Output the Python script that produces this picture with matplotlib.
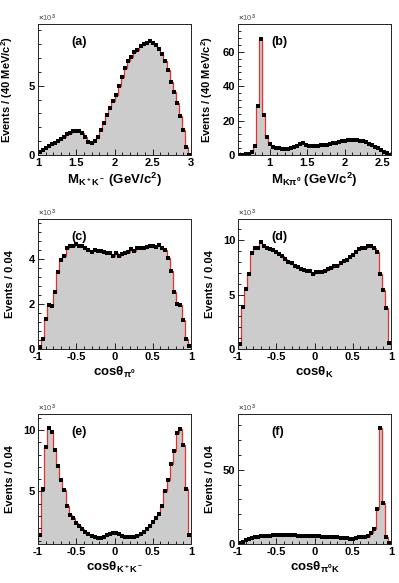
import numpy as np
import matplotlib
matplotlib.use("Agg")
import matplotlib.pyplot as plt
from matplotlib.ticker import MultipleLocator

plt.rcParams['font.family'] = ['Liberation Sans', 'DejaVu Sans']
plt.rcParams['font.weight'] = 'bold'
plt.rcParams['mathtext.fontset'] = 'custom'
plt.rcParams['mathtext.rm'] = 'Liberation Sans:bold'
plt.rcParams['mathtext.it'] = 'Liberation Sans:bold'
plt.rcParams['mathtext.bf'] = 'Liberation Sans:bold'

# ---------------- data (units of 10^3 events per bin) ----------------
# (a) M(K+K-), 1.0 - 3.0 GeV, 40 MeV bins
a_range = (1.0, 3.0)
a_vals = [0.20, 0.36, 0.53, 0.68, 0.80, 0.90, 1.03, 1.18, 1.33, 1.48,
          1.62, 1.70, 1.72, 1.72, 1.56, 1.27, 0.96, 0.84, 0.98, 1.30,
          1.82, 2.30, 2.85, 3.37, 3.90, 4.35, 5.00, 5.60, 6.30, 6.75,
          7.10, 7.40, 7.60, 7.85, 8.00, 8.10, 8.25, 8.10, 7.90, 7.65,
          7.30, 6.75, 6.10, 5.30, 4.55, 3.75, 2.80, 1.80, 0.60, 0.00]

# (b) M(K pi0), 0.58 - 2.62 GeV, 40 MeV bins
b_range = (0.58, 2.62)
b_vals = [0.0, 0.2, 0.3, 0.6, 1.5, 5.2, 28.7, 67.4, 23.1, 10.5,
          6.4, 4.9, 4.3, 3.9, 3.7, 3.6, 3.7, 4.0, 4.5, 5.3,
          6.6, 6.9, 5.9, 5.4, 5.3, 5.4, 5.5, 5.7, 5.9, 6.1,
          6.4, 6.8, 7.2, 7.6, 8.0, 8.4, 8.7, 8.9, 8.9, 8.7,
          8.4, 7.9, 7.3, 6.6, 5.8, 4.9, 3.9, 2.9, 1.9, 0.9, 0.2]

cos_range = (-1.0, 1.0)
# (c) cos(theta_pi0)
c_vals = [0.10, 0.45, 1.32, 1.98, 1.93, 2.56, 3.42, 3.97, 4.15, 4.49,
          4.60, 4.61, 4.67, 4.60, 4.60, 4.52, 4.42, 4.34, 4.42, 4.37,
          4.37, 4.34, 4.27, 4.30, 4.15, 4.27, 4.15, 4.24, 4.27, 4.34,
          4.45, 4.39, 4.49, 4.52, 4.49, 4.56, 4.60, 4.60, 4.56, 4.64,
          4.52, 4.42, 4.04, 3.48, 2.56, 1.99, 1.96, 1.29, 0.45, 0.13]
# (d) cos(theta_K)
d_vals = [0.46, 3.87, 5.52, 6.90, 8.83, 9.26, 9.33, 9.79, 9.48, 9.33,
          9.20, 9.11, 8.90, 8.71, 8.56, 8.25, 7.98, 7.88, 7.67, 7.52,
          7.36, 7.24, 7.18, 7.18, 6.93, 7.09, 7.12, 7.12, 7.18, 7.36,
          7.48, 7.64, 7.67, 7.88, 8.10, 8.19, 8.50, 8.65, 8.90, 9.20,
          9.33, 9.26, 9.48, 9.48, 9.30, 8.90, 6.87, 5.46, 3.80, 0.52]
# (e) cos(theta_K+K-)
e_vals = [1.47, 5.19, 8.61, 10.16, 9.81, 8.40, 7.04, 5.95, 5.08, 3.83,
          3.10, 2.83, 2.47, 2.20, 1.93, 1.74, 1.55, 1.41, 1.28, 1.25,
          1.25, 1.33, 1.44, 1.55, 1.66, 1.66, 1.55, 1.41, 1.33, 1.28,
          1.28, 1.30, 1.39, 1.55, 1.74, 1.93, 2.20, 2.53, 2.88, 3.15,
          3.83, 5.00, 5.95, 7.26, 8.32, 9.76, 10.08, 8.80, 5.22, 1.47]
# (f) cos(theta_pi0 K)
f_vals = [0.45, 1.6, 2.7, 3.4, 4.05, 4.5, 4.95, 5.2, 5.4, 5.6,
          5.7, 5.8, 5.9, 5.9, 5.9, 5.9, 5.9, 5.8, 5.8, 5.7,
          5.7, 5.6, 5.5, 5.4, 5.3, 5.2, 5.1, 5.0, 4.9, 4.8,
          4.7, 4.6, 4.5, 4.3, 4.1, 3.8, 3.4, 3.2, 4.3, 4.6,
          4.7, 4.8, 5.3, 7.3, 10.2, 23.5, 78.0, 27.3, 5.0, 0.8]

panels = [
    dict(vals=a_vals, rng=a_range, ylim=(0, 9.45), tag='(a)',
         xlabel=r'M$_{\mathbf{K^+K^-}}$ (GeV/c$^{\mathbf{2}}$)',
         ylabel=r'Events / (40 MeV/c$^{\mathbf{2}}$)',
         xmaj=0.5, xmin=0.1, ymaj=5, ymin=1,
         xticks=[1, 1.5, 2, 2.5, 3], xticklabels=['1', '1.5', '2', '2.5', '3']),
    dict(vals=b_vals, rng=b_range, ylim=(0, 76.2), tag='(b)',
         xlabel=r'M$_{\mathbf{K\pi^0}}$ (GeV/c$^{\mathbf{2}}$)',
         ylabel=r'Events / (40 MeV/c$^{\mathbf{2}}$)',
         xmaj=0.5, xmin=0.1, ymaj=20, ymin=4,
         xticks=[1, 1.5, 2, 2.5], xticklabels=['1', '1.5', '2', '2.5']),
    dict(vals=c_vals, rng=cos_range, ylim=(0, 5.8), tag='(c)',
         xlabel=r'cos$\mathbf{\theta_{\pi^0}}$', ylabel='Events / 0.04',
         xmaj=0.5, xmin=0.1, ymaj=2, ymin=0.4,
         xticks=[-1, -0.5, 0, 0.5, 1], xticklabels=['-1', '-0.5', '0', '0.5', '1']),
    dict(vals=d_vals, rng=cos_range, ylim=(0, 11.95), tag='(d)',
         xlabel=r'cos$\mathbf{\theta_{K}}$', ylabel='Events / 0.04',
         xmaj=0.5, xmin=0.1, ymaj=5, ymin=1,
         xticks=[-1, -0.5, 0, 0.5, 1], xticklabels=['-1', '-0.5', '0', '0.5', '1']),
    dict(vals=e_vals, rng=cos_range, ylim=(0.73, 11.3), tag='(e)',
         xlabel=r'cos$\mathbf{\theta_{K^+K^-}}$', ylabel='Events / 0.04',
         xmaj=0.5, xmin=0.1, ymaj=5, ymin=1,
         xticks=[-1, -0.5, 0, 0.5, 1], xticklabels=['-1', '-0.5', '0', '0.5', '1']),
    dict(vals=f_vals, rng=cos_range, ylim=(0, 87.6), tag='(f)',
         xlabel=r'cos$\mathbf{\theta_{\pi^0K}}$', ylabel='Events / 0.04',
         xmaj=0.5, xmin=0.1, ymaj=50, ymin=10,
         xticks=[-1, -0.5, 0, 0.5, 1], xticklabels=['-1', '-0.5', '0', '0.5', '1']),
]

W, H = 399, 583
fig = plt.figure(figsize=(W / 100, H / 100), dpi=100)

col_x = [(38, 191), (238, 391)]
row_y = [(24, 155), (219, 349), (414, 544)]

for i, p in enumerate(panels):
    r, c = divmod(i, 2)
    x0, x1 = col_x[c]
    yt, yb = row_y[r]
    ax = fig.add_axes([x0 / W, 1 - yb / H, (x1 - x0) / W, (yb - yt) / H])
    vals = np.array(p['vals'])
    n = len(vals)
    edges = np.linspace(p['rng'][0], p['rng'][1], n + 1)
    centers = 0.5 * (edges[:-1] + edges[1:])
    ax.stairs(vals, edges, baseline=0, fill=True, color='#cccccc', lw=0)
    ax.stairs(vals, edges, baseline=0, fill=False, color='#e8302a', lw=0.9)
    ax.plot(centers, vals, 's', color='black', ms=2.4, mew=0)
    ax.set_xlim(p['rng'])
    ax.set_ylim(p['ylim'])
    ax.set_xticks(p['xticks'])
    ax.set_xticklabels(p['xticklabels'])
    ax.xaxis.set_minor_locator(MultipleLocator(p['xmin']))
    ax.yaxis.set_major_locator(MultipleLocator(p['ymaj']))
    ax.yaxis.set_minor_locator(MultipleLocator(p['ymin']))
    ax.yaxis.set_major_formatter(matplotlib.ticker.FuncFormatter(lambda v, pos: '%g' % v))
    ax.tick_params(which='both', direction='in', top=False, right=False,
                   labelsize=8, width=0.6, pad=2)
    ax.tick_params(which='major', length=4)
    ax.tick_params(which='minor', length=2)
    for s in ax.spines.values():
        s.set_linewidth(0.7)
        s.set_color('#222222')
    for lab in ax.get_xticklabels() + ax.get_yticklabels():
        lab.set_fontweight('bold')
    ax.set_xlabel(p['xlabel'], fontsize=9.5, fontweight='bold', labelpad=2)
    ax.set_ylabel(p['ylabel'], fontsize=8, fontweight='bold')
    ax.yaxis.set_label_coords(-0.15, 0.5)
    ax.text(0.22, 0.86, p['tag'], transform=ax.transAxes, fontsize=9,
            fontweight='bold', ha='left', va='center')
    ax.text(0.0, 1.0, r'$\times$10$^{3}$', transform=ax.transAxes, fontsize=5.5,
            fontweight='normal', color='#555555', ha='left', va='bottom')

fig.savefig('out.png', dpi=100)
